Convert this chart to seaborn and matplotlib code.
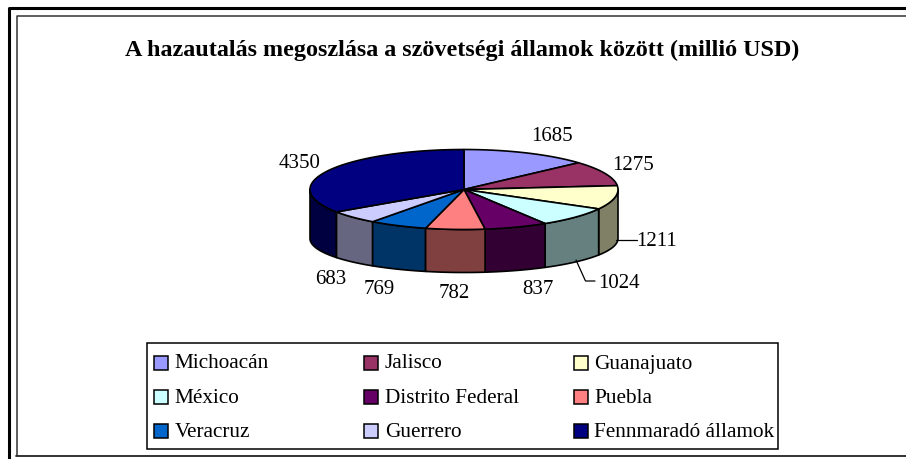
import numpy as np
import seaborn as sns
import matplotlib.pyplot as plt
from matplotlib.patches import Rectangle

sns.set_theme(style='white')
plt.rcParams['font.family'] = ['Liberation Serif', 'DejaVu Serif']

states = ['Michoacán', 'Jalisco', 'Guanajuato', 'México', 'Distrito Federal',
          'Puebla', 'Veracruz', 'Guerrero', 'Fennmaradó államok']
values = [1685, 1275, 1211, 1024, 837, 782, 769, 683, 4350]
top_colors = ['#9999FF', '#993366', '#FFFFCC', '#CCFFFF', '#660066',
              '#FF8080', '#0066CC', '#CCCCFF', '#000080']
side_colors = ['#666699', '#662244', '#808066', '#668080', '#330033',
               '#804040', '#003366', '#666680', '#000040']
title = 'A hazautalás megoszlása a szövetségi államok között (millió USD)'

W, H = 906, 459
fig = plt.figure(figsize=(W / 100, H / 100), dpi=100)
ax = fig.add_axes([0, 0, 1, 1])
ax.set_xlim(0, W)
ax.set_ylim(H, 0)
ax.axis('off')

# frames, open on the right
ax.plot([9, 9, 906], [459, 8, 8], color='black', lw=2.2, solid_capstyle='butt')
ax.plot([17, 17, 906], [456, 16, 16], color='#333333', lw=1.1, solid_capstyle='butt')
ax.plot([16, 906], [455.5, 455.5], color='#222222', lw=1.3)

ax.text(462.5, 55.7, title, ha='center', va='baseline', fontsize=17.35, fontweight='bold', color='black')

# pie, drawn from the values, squashed by hand for the 3D look
cx, cy, rx, ry = 464, 189.5, 154, 40
drop, ry_low = 49, 34
fractions = np.array(values) / sum(values)
edges = np.concatenate([[0], np.cumsum(fractions)]) * 2 * np.pi


def rim(a0, a1, off=0, r=ry):
    t = np.linspace(a0, a1, 60)
    return cx + rx * np.sin(t), cy + off - r * np.cos(t)


order = np.argsort([abs(np.pi - (edges[i] + edges[i + 1]) / 2) for i in range(len(values))])[::-1]
for i in order:
    a0, a1 = edges[i], edges[i + 1]
    lo, hi = max(a0, np.pi / 2), min(a1, 3 * np.pi / 2)
    if hi > lo:
        x, y = rim(lo, hi)
        x2, y2 = rim(lo, hi, drop, ry_low)
        ax.fill(np.r_[x, x2[::-1]], np.r_[y, y2[::-1]], facecolor=side_colors[i],
                edgecolor='black', lw=1.2, joinstyle='round', zorder=2)

for i in range(len(values)):
    x, y = rim(edges[i], edges[i + 1])
    ax.fill(np.r_[cx, x], np.r_[cy, y], facecolor=top_colors[i], edgecolor='black',
            lw=1.2, joinstyle='round', zorder=3)

# data labels
label_pos = [(551.5, 136.5), (633, 165), (657, 242), (619, 283), (537.5, 290),
             (454, 293), (379, 290), (331, 280), (300, 164)]
for v, (lx, ly) in zip(values, label_pos):
    ax.text(lx, ly, str(v), ha='center', va='center', fontsize=15, color='black', zorder=5)

# leader lines
ax.plot([616, 637], [239.5, 239.5], color='black', lw=0.9, zorder=4)
ax.plot([576, 585.5, 595], [260, 281, 281], color='black', lw=0.9, zorder=4)

# legend
ax.add_patch(Rectangle((147, 343), 631, 106, facecolor='white', edgecolor='black', lw=1.1, zorder=4))
col_x = [160.5, 371, 580.5]
row_y = [362.5, 396.7, 430.7]
for k, s in enumerate(states):
    r, c = divmod(k, 3)
    ax.add_patch(Rectangle((col_x[c] - 7, row_y[r] - 7), 14, 14, facecolor=top_colors[k],
                           edgecolor='black', lw=1.1, zorder=5))
    ax.text(col_x[c] + 14, row_y[r] + 1.5, s, ha='left', va='center', fontsize=15.3, color='black', zorder=5)

fig.savefig('out.png', dpi=100)
